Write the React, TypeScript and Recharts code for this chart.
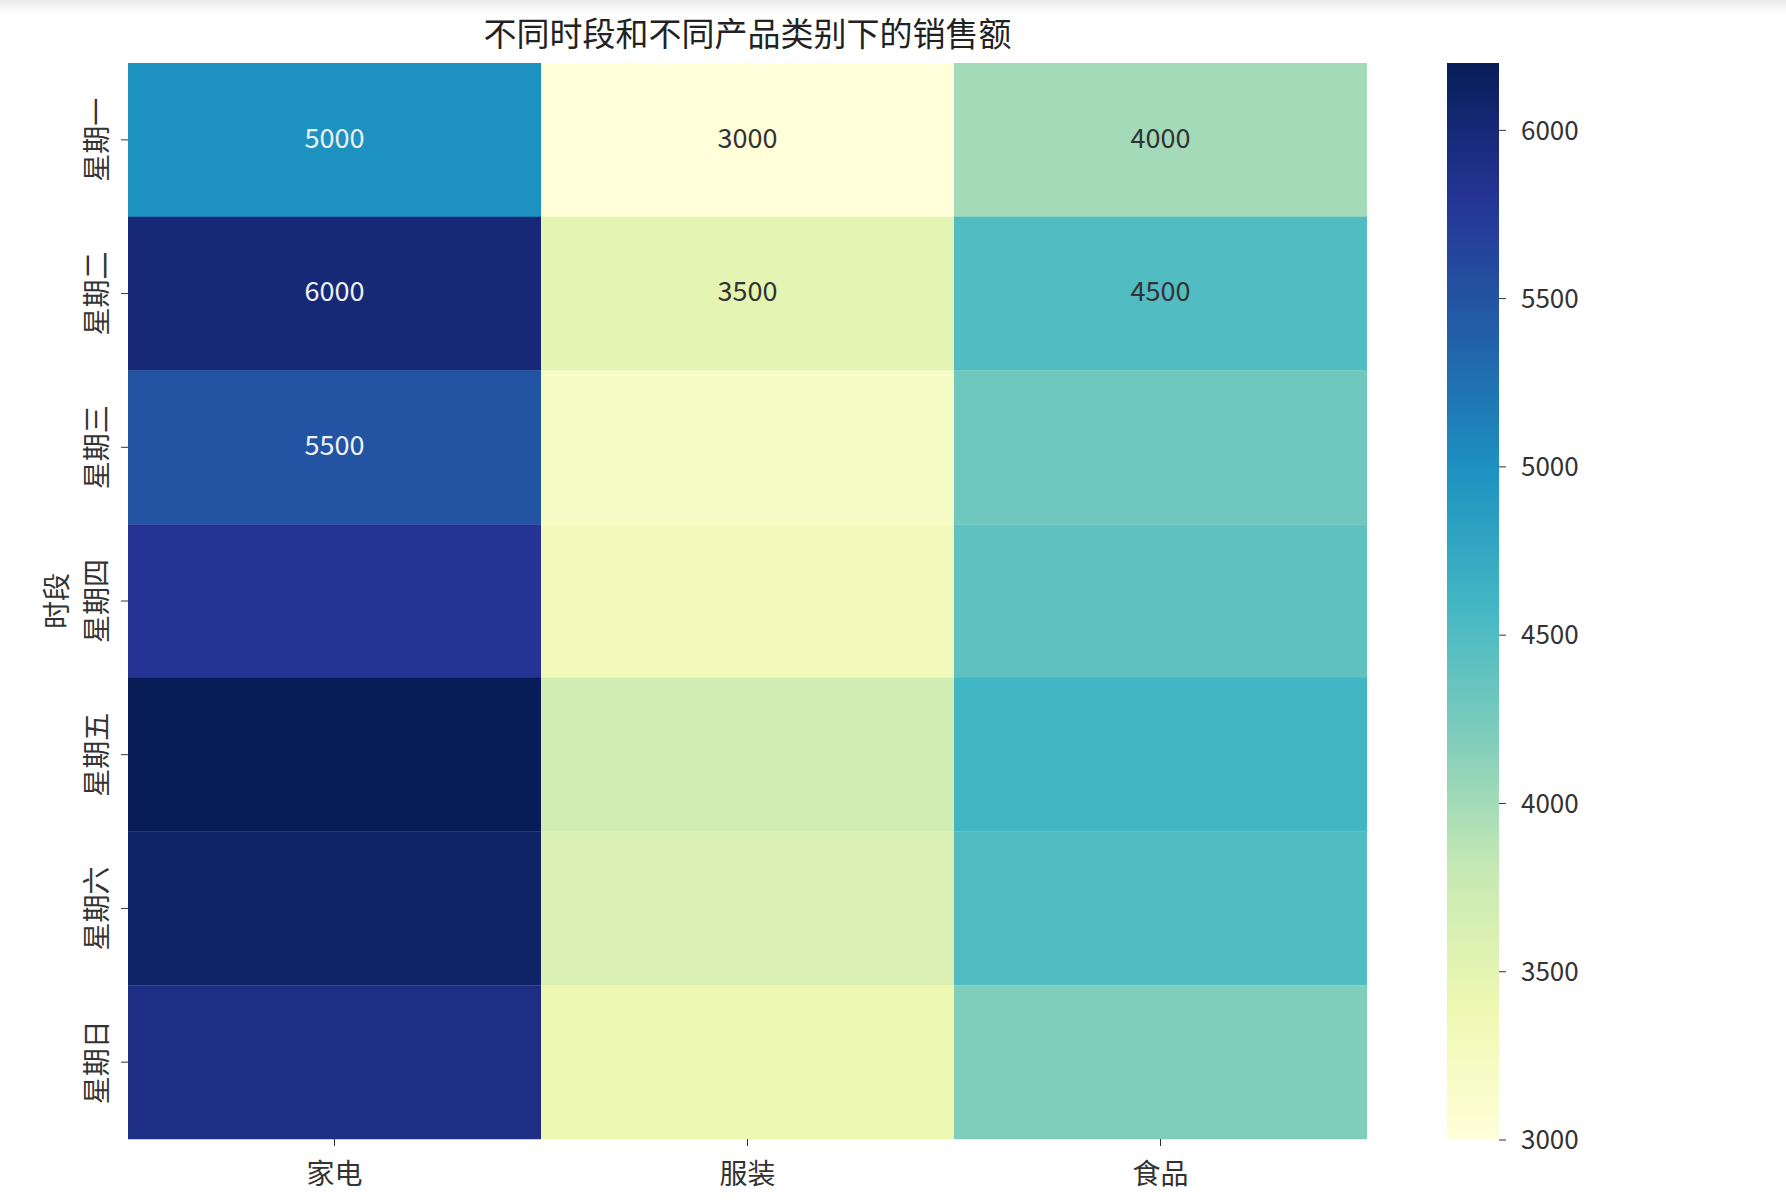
import React from 'react';
import { BarChart, Bar, XAxis, YAxis, Cell, LabelList, Label } from 'recharts';

const days = ['星期一', '星期二', '星期三', '星期四', '星期五', '星期六', '星期日'];
const products = ['家电', '服装', '食品'];

// sales per day
const appliances = [5000, 6000, 5500, 5800, 6200, 6100, 5900];
const clothing = [3000, 3500, 3200, 3300, 3700, 3600, 3400];
const food = [4000, 4500, 4300, 4400, 4600, 4500, 4200];

// only these cells show their number in the original
const annotated = [
  '星期一/家电', '星期一/服装', '星期一/食品',
  '星期二/家电', '星期二/服装', '星期二/食品',
  '星期三/家电',
];

const colorbarTicks = [3000, 3500, 4000, 4500, 5000, 5500, 6000];
const vmin = 3000;
const vmax = 6200;

const YLGNBU = ['#ffffd9', '#edf8b1', '#c7e9b4', '#7fcdbb', '#41b6c4', '#1d91c0', '#225ea8', '#253494', '#081d58'];

const FONT = '"Noto Sans CJK SC", "Noto Sans", sans-serif';
const TEXT = '#333';

const hexToRgb = (h: string) => [1, 3, 5].map((i) => parseInt(h.slice(i, i + 2), 16));

const colorFor = (v: number) => {
  const t = Math.min(1, Math.max(0, (v - vmin) / (vmax - vmin)));
  const pos = t * (YLGNBU.length - 1);
  const i = Math.min(YLGNBU.length - 2, Math.floor(pos));
  const f = pos - i;
  const a = hexToRgb(YLGNBU[i]);
  const b = hexToRgb(YLGNBU[i + 1]);
  const c = a.map((x, k) => Math.round(x + (b[k] - x) * f));
  return `rgb(${c[0]},${c[1]},${c[2]})`;
};

const rows = days.map((day, i) => ({
  day,
  家电: appliances[i],
  服装: clothing[i],
  食品: food[i],
}));

const colorbarData = [{ name: 'cb', range: [vmin, vmax] }];

const YTick = (props: any) => {
  const { x, y, payload } = props;
  const cx = x - 24;
  return (
    <text
      x={cx}
      y={y}
      transform={`rotate(-90 ${cx} ${y})`}
      textAnchor="middle"
      dominantBaseline="central"
      fontSize={28}
      fill={TEXT}
      fontFamily={FONT}
    >
      {payload.value}
    </text>
  );
};

const XTick = (props: any) => {
  const { x, y, payload } = props;
  return (
    <text x={x} y={y + 24} textAnchor="middle" dominantBaseline="central" fontSize={28} fill={TEXT} fontFamily={FONT}>
      {products[Math.floor(payload.value)]}
    </text>
  );
};

const annotFor = (product: string) => (props: any) => {
  const { x, y, width, height, value, index } = props;
  const day = days[index];
  if (!annotated.includes(`${day}/${product}`)) return null;
  const dark = (value - vmin) / (vmax - vmin) > 0.55;
  return (
    <text
      x={x + width / 2}
      y={y + height / 2 - 4}
      textAnchor="middle"
      dominantBaseline="central"
      fontSize={27}
      fill={dark ? '#eef2f7' : TEXT}
      fontFamily={FONT}
    >
      {value}
    </text>
  );
};

const App = () => (
  <div
    style={{
      position: 'absolute',
      left: 0,
      top: 0,
      width: 1786,
      height: 1202,
      background: '#fff',
      fontFamily: FONT,
      overflow: 'hidden',
    }}
  >
    <div
      style={{
        position: 'absolute',
        left: 0,
        top: 0,
        width: 1786,
        height: 14,
        background: 'linear-gradient(#ebebeb, #ffffff)',
      }}
    />
    <div
      style={{
        position: 'absolute',
        left: 128,
        top: 11,
        width: 1239,
        textAlign: 'center',
        fontSize: 33,
        lineHeight: '42px',
        color: '#222',
      }}
    >
      不同时段和不同产品类别下的销售额
    </div>

    <div style={{ position: 'absolute', left: 0, top: 0 }}>
      <BarChart
        width={1400}
        height={1202}
        data={rows}
        layout="vertical"
        barCategoryGap={0}
        barGap={0}
        margin={{ top: 63, right: 33, bottom: 13, left: 0 }}
      >
        <XAxis
          type="number"
          domain={[0, 3]}
          ticks={[0.5, 1.5, 2.5]}
          height={50}
          axisLine={false}
          tickLine={{ stroke: TEXT }}
          tickSize={7}
          tick={<XTick />}
        />
        <YAxis
          type="category"
          dataKey="day"
          width={128}
          axisLine={false}
          tickLine={{ stroke: TEXT }}
          tickSize={7}
          tick={<YTick />}
        >
          <Label
            content={(p: any) => {
              const vb = p.viewBox;
              const cx = vb.x + 55;
              const cy = vb.y + vb.height / 2;
              return (
                <text
                  x={cx}
                  y={cy}
                  transform={`rotate(-90 ${cx} ${cy})`}
                  textAnchor="middle"
                  dominantBaseline="central"
                  fontSize={28}
                  fill={TEXT}
                  fontFamily={FONT}
                >
                  时段
                </text>
              );
            }}
          />
        </YAxis>
        {products.map((p) => (
          <Bar key={p} dataKey={() => 1} stackId="cells" isAnimationActive={false}>
            {rows.map((r: any) => (
              <Cell key={r.day} fill={colorFor(r[p])} stroke="none" />
            ))}
            <LabelList dataKey={p} content={annotFor(p)} />
          </Bar>
        ))}
      </BarChart>
    </div>

    <div style={{ position: 'absolute', left: 1400, top: 0 }}>
      <BarChart
        width={300}
        height={1202}
        data={colorbarData}
        barCategoryGap={0}
        margin={{ top: 63, right: 0, bottom: 62, left: 47 }}
      >
        <defs>
          <linearGradient id="ylgnbu" x1="0" y1="1" x2="0" y2="0">
            {YLGNBU.map((c, i) => (
              <stop key={c} offset={`${(i / (YLGNBU.length - 1)) * 100}%`} stopColor={c} />
            ))}
          </linearGradient>
        </defs>
        <XAxis type="category" dataKey="name" hide />
        <YAxis
          type="number"
          orientation="right"
          domain={[vmin, vmax]}
          ticks={colorbarTicks}
          width={201}
          axisLine={false}
          tickLine={{ stroke: TEXT }}
          tickSize={7}
          tickMargin={15}
          tick={{ fontSize: 26, fill: TEXT, fontFamily: FONT }}
        />
        <Bar dataKey="range" fill="url(#ylgnbu)" isAnimationActive={false} />
      </BarChart>
    </div>
  </div>
);

export default App;
